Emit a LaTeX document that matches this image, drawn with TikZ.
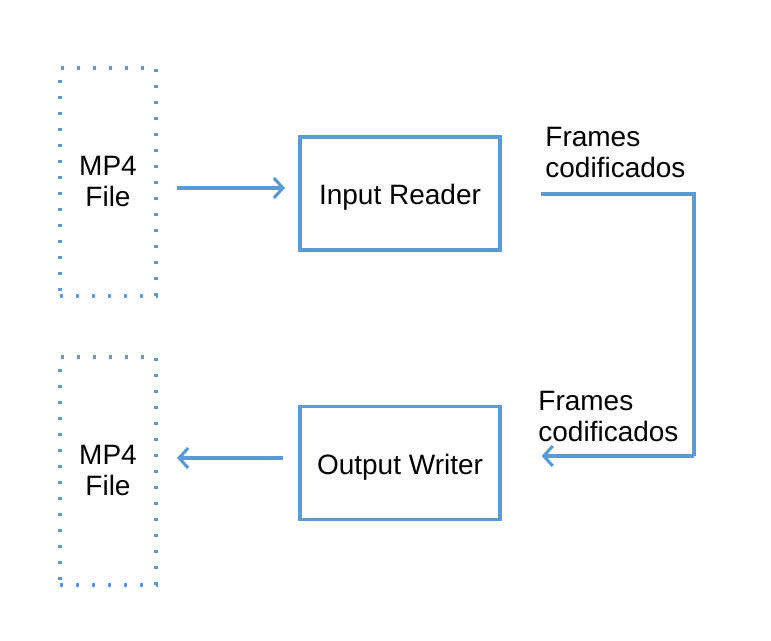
\documentclass[tikz,border=0pt]{standalone}
\usepackage{fontspec}
\setmainfont{Liberation Sans}
\usepackage{tikz}
\usetikzlibrary{arrows.meta, positioning, calc}
\definecolor{flowblue}{RGB}{91,155,213}

\begin{document}
\begin{tikzpicture}[
  x=0.5pt, y=-0.5pt,
  font=\fontsize{14}{15.5}\selectfont,
  >={Straight Barb[length=4.5pt, width=10pt]},
  filebox/.style={draw=flowblue, line width=1.6pt, dash pattern=on 1.6pt off 6.4pt,
                  minimum width=48pt, minimum height=114pt, align=center, inner sep=0pt},
  procbox/.style={draw=flowblue, line width=1.6pt, minimum width=100pt,
                  minimum height=56.5pt, align=center, inner sep=0pt,
                  text height=13.5pt, text depth=2pt},
  flow/.style={draw=flowblue, line width=1.6pt},
  flowlabel/.style={align=left, inner sep=0pt, anchor=north west},
]
  \useasboundingbox (0,0) rectangle (771,641);
  % files on the left
  \node[filebox] (mp4in) at (108, 182) {MP4\\File};
  \node[filebox] (mp4out) at (108, 471) {MP4\\File};
  % processing boxes
  \node[procbox] (reader) at (400, 193.5) {Input Reader};
  \node[procbox] (writer) at (400, 463) {Output Writer};
  % labels on the loop
  \node[flowlabel] (lbltop) at (545, 127) {Frames\\codificados};
  \node[flowlabel] (lblbot) at (538, 391) {Frames\\codificados};
  % connectors
  \coordinate (inend) at (285, 188);
  \coordinate (outend) at (177, 458);
  \coordinate (turnA) at (694, 194);
  \coordinate (turnB) at (694, 456);
  \draw[flow, ->] (mp4in.east |- inend) ++(19,0) -- (inend);
  \draw[flow] (reader.east |- turnA) ++(39,0) -- (turnA) -- (turnB);
  \draw[flow, ->] (turnB) -- ($(writer.east |- turnB)+(40,0)$);
  \draw[flow, ->] (writer.west |- outend) ++(-15,0) -- (outend);
\end{tikzpicture}
\end{document}
